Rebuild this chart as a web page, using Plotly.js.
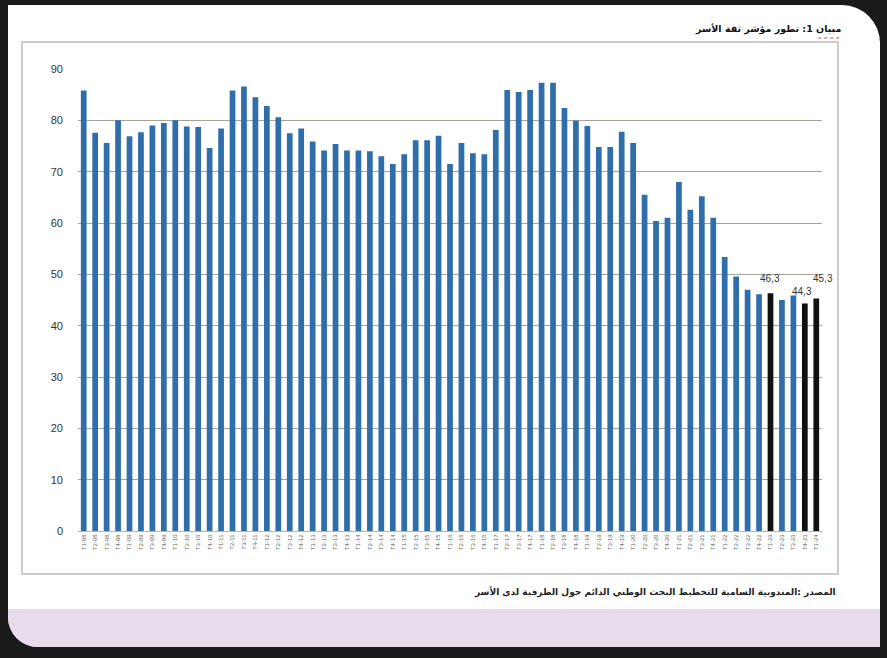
<!DOCTYPE html>
<html>
<head>
<meta charset="utf-8">
<script src="https://cdn.plot.ly/plotly-3.0.1.min.js"></script>
<style>
  html, body { margin:0; padding:0; background:#fff; }
  #frame { position:relative; width:887px; height:658px; background:#1a1a1a; overflow:hidden; }
  #inner { position:absolute; left:8px; top:5px; right:7px; bottom:11px; background:#fff;
           border-top-right-radius:38px; border-bottom-left-radius:30px; overflow:hidden; }
  #band { position:absolute; left:0; right:0; top:604px; bottom:0; background:#e8dcec; }
  #chart { position:absolute; left:0; top:0; width:887px; height:658px; }
</style>
</head>
<body>
<div id="frame">
  <div id="inner"><div id="band"></div></div>
  <div id="chart"></div>
</div>
<script>
const quarters = ["T1-08","T2-08","T3-08","T4-08","T1-09","T2-09","T3-09","T4-09",
  "T1-10","T2-10","T3-10","T4-10","T1-11","T2-11","T3-11","T4-11",
  "T1-12","T2-12","T3-12","T4-12","T1-13","T2-13","T3-13","T4-13",
  "T1-14","T2-14","T3-14","T4-14","T1-15","T2-15","T3-15","T4-15",
  "T1-16","T2-16","T3-16","T4-16","T1-17","T2-17","T3-17","T4-17",
  "T1-18","T2-18","T3-18","T4-18","T1-19","T2-19","T3-19","T4-19",
  "T1-20","T2-20","T3-20","T4-20","T1-21","T2-21","T3-21","T4-21",
  "T1-22","T2-22","T3-22","T4-22","T1-23","T2-23","T3-23","T4-23","T1-24"];
const icm = [85.8,77.6,75.6,80.0,76.9,77.7,79.0,79.5,
  80.0,78.8,78.7,74.6,78.4,85.8,86.6,84.5,
  82.8,80.6,77.5,78.4,75.9,74.1,75.4,74.1,
  74.1,74.0,73.0,71.5,73.4,76.1,76.1,77.0,
  71.5,75.6,73.6,73.4,78.1,85.9,85.5,85.9,
  87.3,87.3,82.4,79.9,78.9,74.8,74.8,77.8,
  75.6,65.5,60.4,61.0,68.0,62.6,65.2,61.0,
  53.4,49.6,47.0,46.1,46.3,45.0,45.9,44.3,45.3];
const highlighted = ["T1-23","T4-23","T1-24"];
const yTicks = [0,10,20,30,40,50,60,70,80,90];
const titleText = "\u200Fمبيان 1: تطور مؤشر ثقة الأسر";
const sourceText = "\u200Fالمصدر :المندوبية السامية للتخطيط البحث الوطني الدائم حول الظرفية لدى الأسر";

const colors = quarters.map(q => highlighted.includes(q) ? "#111111" : "#2f6eaa");
const labelShift = { "T1-23": [0, 0], "T4-23": [-3, -2], "T1-24": [7, 5] };

const annotations = highlighted.map(q => {
  const i = quarters.indexOf(q);
  const s = labelShift[q];
  return { x: q, y: icm[i], xref: "x", yref: "y", text: icm[i].toFixed(1).replace(".", ","),
           showarrow: false, yanchor: "bottom", xshift: s[0], yshift: 7 + s[1],
           font: { family: "Liberation Sans, Arial", size: 10, color: "#333" } };
});
annotations.push({ xref: "paper", yref: "paper", x: 1.028, y: 1.087, xanchor: "right", yanchor: "middle",
  text: "<b>" + titleText + "</b>", showarrow: false,
  font: { family: "DejaVu Sans", size: 9.5, color: "#111" } });
annotations.push({ xref: "paper", yref: "paper", x: 1.021, y: -0.133, xanchor: "right", yanchor: "middle",
  text: "<b>" + sourceText + "</b>", showarrow: false,
  font: { family: "DejaVu Sans", size: 9, color: "#222" } });

const trace = {
  type: "bar", x: quarters, y: icm,
  marker: { color: colors, line: { width: 0 } },
  hoverinfo: "x+y"
};

const layout = {
  width: 887, height: 658,
  margin: { l: 78, r: 65, t: 69, b: 127, autoexpand: false },
  paper_bgcolor: "rgba(0,0,0,0)", plot_bgcolor: "#fff",
  showlegend: false, bargap: 0.5,
  xaxis: { type: "category", range: [-0.5, quarters.length - 0.5], automargin: false,
           tickangle: -90, showgrid: false, ticks: "",
           showline: true, linecolor: "#b5b5b5", linewidth: 1,
           tickfont: { family: "Liberation Sans, Arial", size: 6, color: "#666" } },
  yaxis: { range: [0, 90], tickvals: yTicks, showgrid: true, gridcolor: "#a8a29c", gridwidth: 1,
           automargin: false, zeroline: false, ticks: "", ticklabelstandoff: 14,
           tickfont: { family: "Liberation Sans, Arial", size: 11, color: "#333" } },
  annotations: annotations,
  shapes: [
    { type: "rect", xref: "paper", yref: "paper", x0: -0.0753, x1: 1.0215, y0: -0.093, y1: 1.0584,
      line: { color: "#cccccc", width: 2 }, fillcolor: "#ffffff", layer: "below" },
    { type: "line", xref: "paper", yref: "paper", x0: 0.995, x1: 1.027, y0: 1.067, y1: 1.067,
      line: { color: "#d04040", width: 1, dash: "dot" } }
  ]
};

Plotly.newPlot("chart", [trace], layout, { displayModeBar: false, staticPlot: true });
</script>
</body>
</html>
